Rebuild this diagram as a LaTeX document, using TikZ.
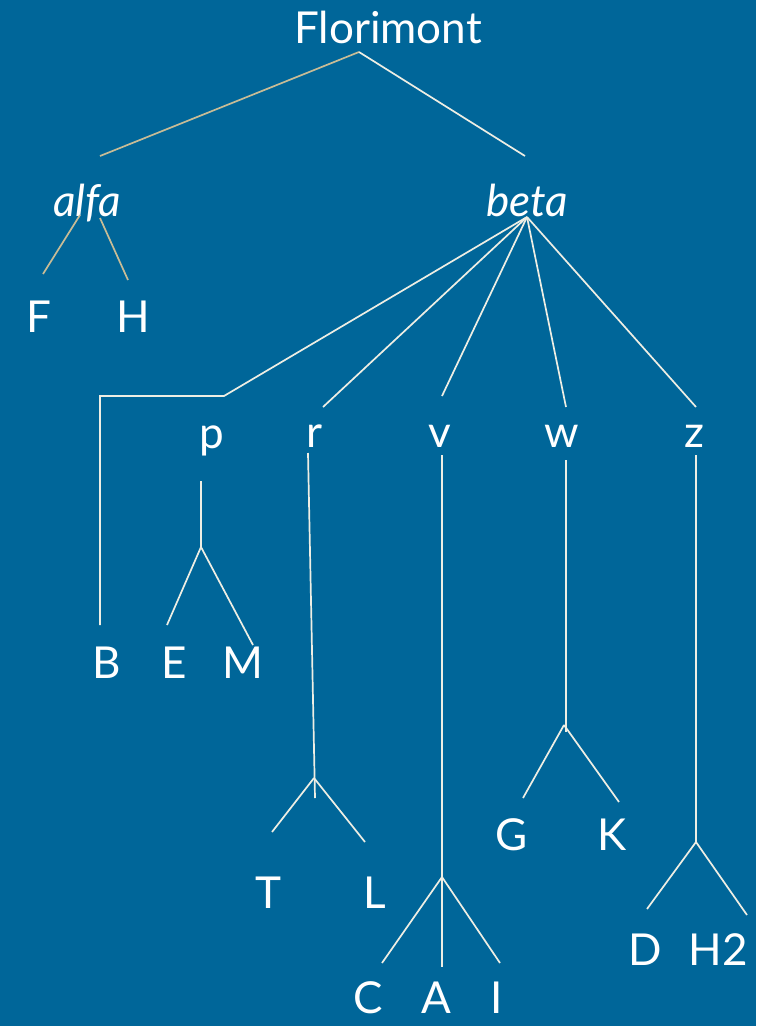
\documentclass[tikz,border=0pt]{standalone}
\usepackage{fontspec}
\setmainfont{Lato}
\definecolor{bg}{RGB}{0,102,153}
\definecolor{tanline}{RGB}{200,188,150}
\definecolor{wline}{RGB}{238,238,228}
\begin{document}
\begin{tikzpicture}[x=1pt,y=-1pt,
  lbl/.style={text=white,font=\fontsize{44}{44}\selectfont,anchor=base,inner sep=0pt},
  ilbl/.style={lbl,font=\fontsize{44}{44}\selectfont\itshape},
  bottomlbl/.style={lbl,text depth=0pt},
  edge/.style={draw=wline,line width=1.7pt},
  tedge/.style={draw=tanline,line width=1.7pt}]
\fill[bg] (0,0) rectangle (756,1026);
\useasboundingbox (0,0) rectangle (756,1026);
% labels
\node[lbl] (flor) at (388,43) {Florimont};
\node[ilbl] (alfa) at (87,216) {alfa};
\node[ilbl] (beta) at (527,216) {beta};
\node[lbl] (F) at (39,332) {F};
\node[lbl] (H) at (133,332) {H};
\node[lbl] (p) at (212,448) {p};
\node[lbl] (r) at (315,447) {r};
\node[lbl] (v) at (440,447) {v};
\node[lbl] (w) at (562,447) {w};
\node[lbl] (z) at (694,447) {z};
\node[lbl] (B) at (107,678) {B};
\node[lbl] (E) at (174,678) {E};
\node[lbl] (M) at (243,678) {M};
\node[lbl] (T) at (268,908) {T};
\node[lbl] (L) at (375,908) {L};
\node[lbl] (G) at (512,850) {G};
\node[lbl] (K) at (612,850) {K};
\node[bottomlbl] (C) at (368,1013) {C};
\node[bottomlbl] (A) at (436,1013) {A};
\node[bottomlbl] (I) at (497,1013) {I};
\node[lbl] (D) at (645,965) {D};
\node[lbl] (H2) at (718,965) {H2};
% connector points
\coordinate (florB) at (359,52);
\coordinate (alfaT) at (100,156);
\coordinate (betaT) at (525,156);
\coordinate (alfaBl) at (80,215);
\coordinate (alfaBr) at (100,218);
\coordinate (FT) at (43,274);
\coordinate (HT) at (128,280);
\coordinate (betaB) at (527,217);
\coordinate (bk1) at (224,396);
\coordinate (bk2) at (100,396);
\coordinate (BT) at (100,625);
\coordinate (rT) at (323,407);
\coordinate (vT) at (442,396);
\coordinate (wT) at (566,407);
\coordinate (zT) at (696,407);
\coordinate (pB) at (201,481);
\coordinate (pF) at (201,547);
\coordinate (ET) at (167,625);
\coordinate (MT) at (253,645);
\coordinate (rB) at (308,453);
\coordinate (rE) at (315,798);
\coordinate (rF) at (314,778);
\coordinate (TT) at (272,832);
\coordinate (LT) at (365,842);
\coordinate (vB) at (442,455);
\coordinate (vF) at (442,877);
\coordinate (CT) at (382,963);
\coordinate (AT) at (442,967);
\coordinate (IT) at (500,963);
\coordinate (wB) at (566,460);
\coordinate (wE) at (566,732);
\coordinate (wF) at (564,725);
\coordinate (GT) at (523,798);
\coordinate (KT) at (619,802);
\coordinate (zB) at (696,455);
\coordinate (zF) at (696,842);
\coordinate (DT) at (647,909);
\coordinate (H2T) at (747,915);
% connectors
\draw[tedge] (florB) -- (alfaT);
\draw[edge] (florB) -- (betaT);
\draw[tedge] (alfaBl) -- (FT);
\draw[tedge] (alfaBr) -- (HT);
\draw[edge] (betaB) -- (bk1) -- (bk2) -- (BT);
\draw[edge] (betaB) -- (rT);
\draw[edge] (betaB) -- (vT);
\draw[edge] (betaB) -- (wT);
\draw[edge] (betaB) -- (zT);
\draw[edge] (pB) -- (pF);
\draw[edge] (pF) -- (ET);
\draw[edge] (pF) -- (MT);
\draw[edge] (rB) -- (rE);
\draw[edge] (rF) -- (TT);
\draw[edge] (rF) -- (LT);
\draw[edge] (vB) -- (vF);
\draw[edge] (vF) -- (CT);
\draw[edge] (vF) -- (AT);
\draw[edge] (vF) -- (IT);
\draw[edge] (wB) -- (wE);
\draw[edge] (wF) -- (GT);
\draw[edge] (wF) -- (KT);
\draw[edge] (zB) -- (zF);
\draw[edge] (zF) -- (DT);
\draw[edge] (zF) -- (H2T);
\end{tikzpicture}
\end{document}
